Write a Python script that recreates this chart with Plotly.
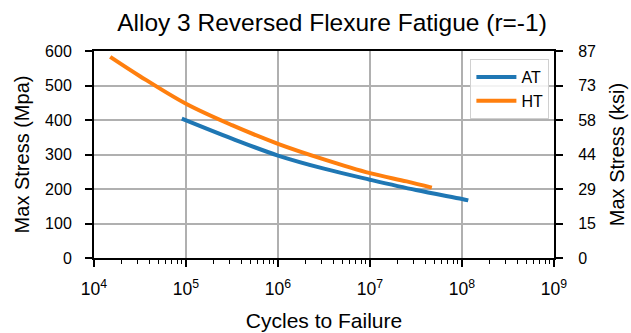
import plotly.graph_objects as go

# Data (cycles, max stress in MPa)
at_cycles = [9.0e4, 3.16e5, 1.0e6, 3.16e6, 1.0e7, 3.16e7, 1.0e8, 1.17e8]
at_stress = [404, 346, 297, 259, 227, 197, 171, 167]

ht_cycles = [1.5e4, 3.16e4, 1.0e5, 3.16e5, 1.0e6, 3.16e6, 1.0e7, 2.5e7, 4.7e7]
ht_stress = [583, 527, 447, 385, 331, 286, 246, 222, 204]

x_tickvals = [1e4, 1e5, 1e6, 1e7, 1e8, 1e9]
x_ticktext = ["10<sup>4</sup>", "10<sup>5</sup>", "10<sup>6</sup>", "10<sup>7</sup>", "10<sup>8</sup>", "10<sup>9</sup>"]
x_minor_vals = [m * d for d in x_tickvals[:-1] for m in range(2, 10)]
y_tickvals = [0, 100, 200, 300, 400, 500, 600]
ksi_ticktext = ["0", "15", "29", "44", "58", "73", "87"]

FONT = "Liberation Sans, Arial, sans-serif"
W, H = 631, 333

fig = go.Figure()
fig.add_trace(go.Scatter(x=at_cycles, y=at_stress, mode="lines", name="AT",
                         line=dict(color="#1f77b4", width=4, shape="spline", smoothing=1.0)))
fig.add_trace(go.Scatter(x=ht_cycles, y=ht_stress, mode="lines", name="HT",
                         line=dict(color="#ff7f0e", width=4, shape="spline", smoothing=1.0)))
# invisible trace to carry the secondary (ksi) axis
fig.add_trace(go.Scatter(x=ht_cycles, y=ht_stress, mode="lines", yaxis="y2",
                         line=dict(color="rgba(0,0,0,0)", width=0), showlegend=False,
                         hoverinfo="skip"))

fig.update_layout(
    width=W, height=H,
    margin=dict(l=94, r=77, t=51, b=75, autoexpand=False),
    paper_bgcolor="white", plot_bgcolor="white",
    font=dict(family=FONT, color="black", size=16),
    title=dict(text="Alloy 3 Reversed Flexure Fatigue (r=-1)", x=332 / W, xref="container",
               xanchor="center", y=1 - 22 / H, yref="container", yanchor="middle",
               font=dict(size=24.5, family=FONT, color="black")),
    showlegend=True,
    legend=dict(x=0.99, y=0.961, xanchor="right", yanchor="top",
                bgcolor="rgba(255,255,255,0.85)", bordercolor="#d0d0d0", borderwidth=1,
                font=dict(size=16, family=FONT), itemwidth=40, tracegroupgap=2),
    xaxis=dict(type="log", range=[4, 9], tickvals=x_tickvals, ticktext=x_ticktext,
               showgrid=True, gridcolor="#b0b0b0", gridwidth=1.5, automargin=False,
               showline=True, linecolor="black", linewidth=2, mirror=True,
               ticks="outside", ticklen=7, tickwidth=1.5, tickcolor="black",
               ticklabelstandoff=7,
               minor=dict(tickmode="array", tickvals=x_minor_vals, ticks="outside",
                          ticklen=4, tickwidth=1.2, tickcolor="black", showgrid=False),
               tickfont=dict(size=17.5), zeroline=False,
               title=dict(text="Cycles to Failure", font=dict(size=21), standoff=15)),
    yaxis=dict(range=[0, 600], tickvals=y_tickvals, automargin=False,
               showgrid=True, gridcolor="#b0b0b0", gridwidth=1.5,
               showline=True, linecolor="black", linewidth=2, mirror=True,
               ticks="outside", ticklen=7, tickwidth=1.5, tickcolor="black",
               ticklabelstandoff=10,
               tickfont=dict(size=16), zeroline=False,
               title=dict(text="Max Stress (Mpa)", font=dict(size=20), standoff=10)),
    yaxis2=dict(range=[0, 600], overlaying="y", side="right", tickvals=y_tickvals,
                ticktext=ksi_ticktext, showgrid=False, zeroline=False, automargin=False,
                showline=True, linecolor="black", linewidth=2,
                ticks="outside", ticklen=7, tickwidth=1.5, tickcolor="black",
                ticklabelstandoff=12,
                tickfont=dict(size=16),
                title=dict(text="Max Stress (ksi)", font=dict(size=20), standoff=15)),
)

fig.write_html("out.html", config={"displayModeBar": False},
               post_script="document.body.style.margin='0px';document.body.style.overflow='hidden';")
